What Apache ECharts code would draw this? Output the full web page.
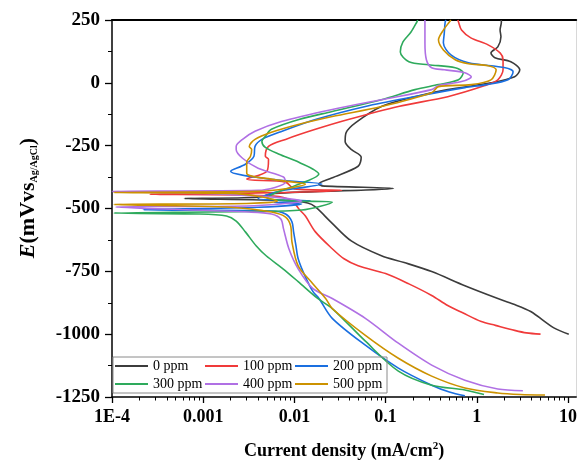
<!DOCTYPE html>
<html><head><meta charset="utf-8">
<script src="https://cdn.jsdelivr.net/npm/echarts@6/dist/echarts.min.js"></script>
<style>html,body{margin:0;padding:0;background:#fff}#c{width:580px;height:465px}</style>
</head><body><div id="c"></div>
<script>
// ---- data: [current density (mA/cm2), potential (mV vs Ag/AgCl)] ----
const seriesNames = ['0 ppm','100 ppm','200 ppm','300 ppm','400 ppm','500 ppm'];
const seriesColors = ['#3c3c3c','#f03a3a','#1a6fe0','#2eaa5c','#b070e4','#cc9200'];

const ppm0 = [[10.2,-1000],[7,-975],[3.9,-910],[2.5,-880],[1.7,-858],[0.74,-807],[0.32,-751],[0.16,-715],[0.09,-688],[0.042,-629],[0.025,-553],[0.017,-494],[0.014,-478],[0.008,-468],[6.2e-4,-460],[0.004,-455],[0.006,-440],[0.122,-420],[0.02,-410],[0.0185,-403],[0.0256,-379],[0.05,-332],[0.054,-296],[0.042,-265],[0.036,-233],[0.037,-197],[0.047,-158],[0.09,-94],[0.21,-55],[0.48,-27],[1.43,0],[2.6,24],[2.96,52],[2.36,84],[1.58,100],[1.43,119],[1.7,143],[1.84,183],[1.8,210],[1.86,242],[1.85,250]];
const ppm100 = [[5.0,-1000],[3.5,-995],[2.6,-985],[1.6,-965],[1.12,-950],[0.7,-915],[0.48,-886],[0.32,-846],[0.18,-800],[0.1,-759],[0.05,-728],[0.035,-700],[0.026,-660],[0.017,-593],[0.0132,-530],[0.0112,-502],[0.0095,-470],[0.006,-450],[2.6e-4,-443],[0.004,-438],[0.033,-428],[0.01,-422],[0.008,-395],[0.003,-383],[0.005,-352],[0.0052,-304],[0.0048,-292],[0.0052,-253],[0.008,-225],[0.017,-185],[0.039,-146],[0.138,-94],[0.48,-55],[1.23,-11],[1.7,12],[1.94,52],[1.94,92],[1.8,119],[1.33,151],[0.86,179],[0.68,210],[0.63,242],[0.62,250]];
const ppm200 = [[0.74,-1245],[0.5,-1230],[0.32,-1203],[0.138,-1135],[0.06,-1044],[0.026,-937],[0.0186,-858],[0.016,-831],[0.013,-767],[0.011,-700],[0.0104,-648],[0.0098,-593],[0.0094,-553],[0.008,-522],[0.0056,-510],[2.2e-4,-505],[0.004,-495],[0.012,-482],[0.006,-476],[0.015,-470],[0.004,-460],[0.007,-430],[0.02,-403],[0.006,-385],[0.002,-352],[0.0029,-324],[0.0036,-292],[0.0037,-253],[0.0044,-225],[0.0068,-197],[0.017,-146],[0.06,-94],[0.21,-55],[0.74,-19],[1.23,-8],[2.2,12],[2.5,44],[2.05,60],[0.81,80],[0.52,111],[0.43,159],[0.44,198],[0.45,242],[0.46,250]];
const ppm300 = [[1.2,-1240],[0.74,-1222],[0.32,-1203],[0.138,-1147],[0.06,-1028],[0.026,-898],[0.018,-858],[0.011,-791],[0.0075,-740],[0.0049,-688],[0.0038,-648],[0.0029,-593],[0.0023,-550],[0.0018,-530],[0.0009,-522],[1.05e-4,-518],[0.003,-512],[0.012,-506],[0.026,-475],[0.01,-470],[0.005,-458],[0.006,-440],[0.01,-410],[0.0185,-363],[0.0112,-316],[0.0068,-284],[0.0048,-257],[0.0044,-233],[0.0048,-213],[0.0056,-185],[0.0112,-146],[0.026,-114],[0.09,-67],[0.21,-27],[0.38,-7],[0.63,12],[0.71,40],[0.58,60],[0.295,72],[0.18,84],[0.145,123],[0.155,163],[0.19,202],[0.22,242],[0.225,250]];
const ppm400 = [[3.2,-1225],[1.7,-1218],[0.74,-1183],[0.32,-1123],[0.138,-1036],[0.06,-937],[0.026,-858],[0.016,-819],[0.011,-740],[0.0087,-660],[0.0076,-581],[0.0071,-542],[0.0056,-522],[0.0032,-514],[1.1e-4,-494],[0.003,-490],[0.012,-470],[0.006,-455],[0.001,-440],[1e-4,-432],[0.004,-428],[0.008,-395],[0.0076,-375],[0.004,-340],[0.0027,-300],[0.0023,-265],[0.0023,-253],[0.0027,-225],[0.0037,-193],[0.0072,-154],[0.026,-106],[0.09,-67],[0.32,-27],[0.38,-11],[0.68,5],[0.87,24],[0.74,40],[0.44,52],[0.32,60],[0.28,92],[0.27,159],[0.27,210],[0.27,242],[0.27,250]];
const ppm500 = [[5.6,-1242],[3,-1240],[1.7,-1234],[0.74,-1214],[0.32,-1167],[0.138,-1096],[0.06,-1005],[0.026,-898],[0.022,-858],[0.016,-800],[0.011,-728],[0.0094,-633],[0.0091,-569],[0.008,-534],[0.0056,-514],[0.002,-495],[1.05e-4,-484],[0.003,-480],[0.0065,-470],[0.0044,-454],[0.002,-440],[1.05e-4,-436],[0.004,-432],[0.0132,-403],[0.006,-385],[0.003,-360],[0.003,-316],[0.0033,-292],[0.0034,-265],[0.0032,-253],[0.0037,-225],[0.0056,-197],[0.011,-166],[0.026,-134],[0.09,-94],[0.32,-39],[0.38,-15],[0.87,-7],[1.43,12],[1.63,52],[1.33,68],[0.81,76],[0.58,92],[0.43,131],[0.38,171],[0.43,210],[0.5,242],[0.52,250]];

const xTickValues = [1e-4, 1e-3, 1e-2, 0.1, 1, 10];
const xTickLabels = ['1E-4', '0.001', '0.01', '0.1', '1', '10'];
const xMin = 1e-4, xMax = 12.3;
const yMin = -1250, yMax = 250, yStep = 250;

// ---- build ----
const allData = [ppm0, ppm100, ppm200, ppm300, ppm400, ppm500];
const minorTicks = [];
xTickValues.forEach(d => { for (let k = 2; k <= 9; k++) { const v = k * d; if (v <= xMax) minorTicks.push(v); } });

const FONT = "'Liberation Serif','Times New Roman',serif";
const chart = echarts.init(document.getElementById('c'), null, {renderer: 'canvas'});
chart.setOption({
  animation: false,
  backgroundColor: '#fff',
  grid: {left: 112, right: 1, top: 20, bottom: 66},
  legend: {
    data: seriesNames,
    left: 113, top: 357, width: 276,
    orient: 'horizontal',
    icon: 'rect',
    itemWidth: 33, itemHeight: 2, itemGap: 2,
    padding: [1, 4, 1, 2],
    borderColor: '#8a8a8a', borderWidth: 1,
    textStyle: {fontFamily: FONT, fontSize: 14, color: '#000', width: 50, lineHeight: 16}
  },
  xAxis: [
    {
      type: 'log', logBase: 10, min: xMin, max: xMax, position: 'bottom',
      name: 'Current density (mA/cm{sup|2})', nameLocation: 'middle', nameGap: 44,
      nameTextStyle: {fontFamily: FONT, fontSize: 18, fontWeight: 'bold', color: '#000',
        rich: {sup: {fontFamily: FONT, fontSize: 11, fontWeight: 'bold', color: '#000', padding: [0,0,9,0]}}},
      axisLine: {show: true, onZero: false, lineStyle: {color: '#000', width: 1.5}},
      axisTick: {show: true, inside: false, length: 6, lineStyle: {color: '#000', width: 1.3}, customValues: xTickValues},
      axisLabel: {fontFamily: FONT, fontSize: 18, fontWeight: 'bold', color: '#000', margin: 11,
        customValues: xTickValues,
        formatter: function (v) {
          for (let i = 0; i < xTickValues.length; i++) {
            if (Math.abs(Math.log10(v) - Math.log10(xTickValues[i])) < 1e-6) return xTickLabels[i];
          }
          return '';
        }},
      splitLine: {show: false}, minorSplitLine: {show: false}
    },
    {
      type: 'log', logBase: 10, min: xMin, max: xMax, position: 'bottom', offset: 0,
      axisLine: {show: false, onZero: false},
      axisTick: {show: true, inside: false, length: 3.5, lineStyle: {color: '#000', width: 1}, customValues: minorTicks},
      axisLabel: {show: false}, splitLine: {show: false}
    },
    {
      type: 'log', logBase: 10, min: xMin, max: xMax, position: 'top',
      axisLine: {show: true, onZero: false, lineStyle: {color: '#000', width: 2}},
      axisTick: {show: false}, axisLabel: {show: false}, splitLine: {show: false}
    }
  ],
  yAxis: [
    {
      type: 'value', min: yMin, max: yMax, interval: yStep, position: 'left',
      name: '{i|E}{b|(mVvs}{s|Ag/AgCl}{b|)}', nameLocation: 'middle', nameGap: 73,
      nameTextStyle: {fontFamily: FONT, color: '#000', padding: [0, 0, 0, 21],
        rich: {
          i: {fontFamily: FONT, fontSize: 22, fontWeight: 'bold', fontStyle: 'italic', color: '#000'},
          b: {fontFamily: FONT, fontSize: 22, fontWeight: 'bold', color: '#000'},
          s: {fontFamily: FONT, fontSize: 10, fontWeight: 'bold', color: '#000', padding: [12, 0, 0, 0]}
        }},
      axisLine: {show: true, onZero: false, lineStyle: {color: '#000', width: 1.5}},
      axisTick: {show: true, inside: false, length: 7, lineStyle: {color: '#000', width: 1.3}},
      minorTick: {show: true, splitNumber: 2, length: 4, lineStyle: {color: '#000', width: 1}},
      axisLabel: {fontFamily: FONT, fontSize: 19, fontWeight: 'bold', color: '#000', margin: 12,
        formatter: v => String(v)},
      splitLine: {show: false}
    },
    {
      type: 'value', min: yMin, max: yMax, interval: yStep, position: 'right',
      axisLine: {show: true, onZero: false, lineStyle: {color: '#d8d8d8', width: 1}},
      axisTick: {show: false}, axisLabel: {show: false}, splitLine: {show: false}
    }
  ],
  series: allData.map((d, k) => ({
    name: seriesNames[k], type: 'line', xAxisIndex: 0, yAxisIndex: 0,
    data: d, showSymbol: false, symbol: 'none', smooth: 0.3,
    lineStyle: {color: seriesColors[k], width: 1.6},
    itemStyle: {color: seriesColors[k]},
    clip: true
  }))
});
</script></body></html>
